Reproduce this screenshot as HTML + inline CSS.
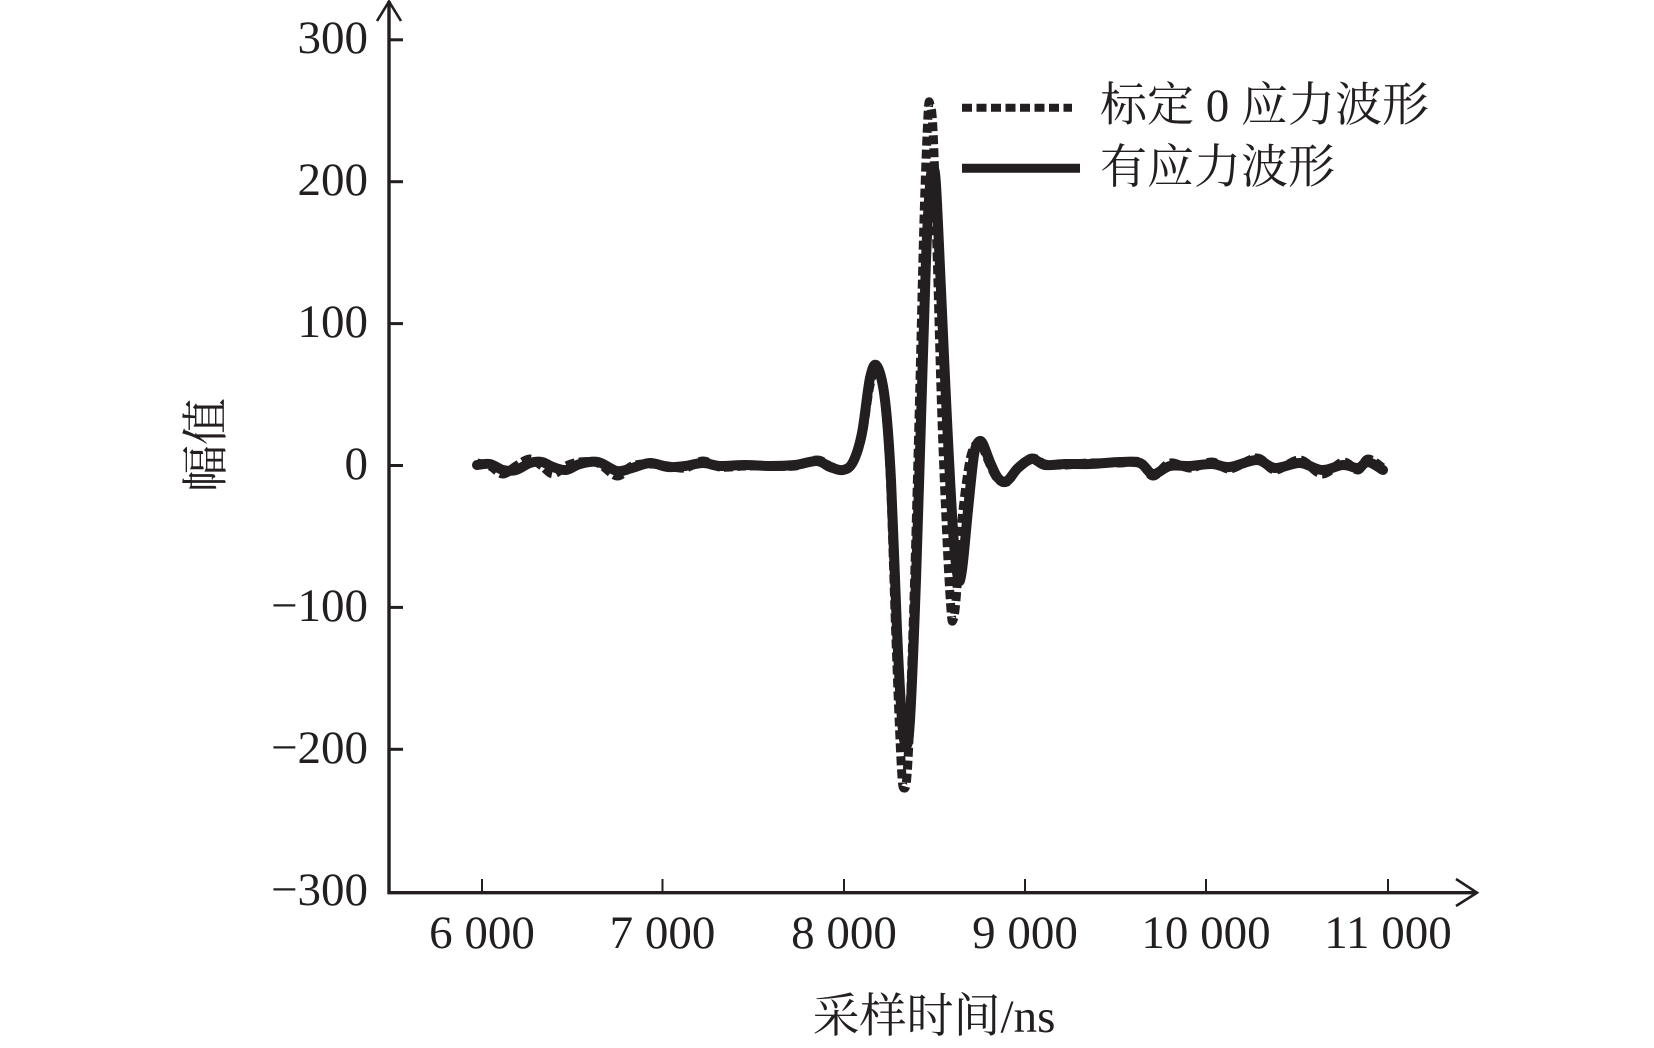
<!DOCTYPE html>
<html>
<head>
<meta charset="utf-8">
<style>
  html,body{margin:0;padding:0;background:#fff;}
  body{width:1654px;height:1048px;overflow:hidden;}
  svg{display:block;}
  .num{font-family:"Liberation Serif","Noto Serif CJK SC",serif;font-size:47px;fill:#231f20;}
  .cjk{font-family:"Liberation Serif","Noto Serif CJK SC",serif;font-size:47px;fill:#231f20;}
</style>
</head>
<body>
<svg id="chart" width="1654" height="1048" viewBox="0 0 1654 1048" xmlns="http://www.w3.org/2000/svg">
  <!-- axes -->
  <g stroke="#231f20" fill="none" stroke-linecap="butt">
    <line x1="389" y1="1" x2="389" y2="894" stroke-width="3.4"/>
    <line x1="387.5" y1="892.7" x2="1477" y2="892.7" stroke-width="3.4"/>
    <polyline points="377,21 389,1.5 401,21" stroke-width="2.6"/>
    <polyline points="1456,879 1477,892.7 1456,906" stroke-width="2.6"/>
    <!-- y ticks -->
    <line x1="389" y1="39.8" x2="403" y2="39.8" stroke-width="3"/>
    <line x1="389" y1="181.7" x2="403" y2="181.7" stroke-width="3"/>
    <line x1="389" y1="323.6" x2="403" y2="323.6" stroke-width="3"/>
    <line x1="389" y1="465.5" x2="403" y2="465.5" stroke-width="3"/>
    <line x1="389" y1="607.4" x2="403" y2="607.4" stroke-width="3"/>
    <line x1="389" y1="749.3" x2="403" y2="749.3" stroke-width="3"/>
    <!-- x ticks -->
    <line x1="482" y1="879" x2="482" y2="892" stroke-width="2"/>
    <line x1="662.5" y1="879" x2="662.5" y2="892" stroke-width="2"/>
    <line x1="844" y1="879" x2="844" y2="892" stroke-width="2"/>
    <line x1="1025" y1="879" x2="1025" y2="892" stroke-width="2"/>
    <line x1="1206" y1="879" x2="1206" y2="892" stroke-width="2"/>
    <line x1="1388" y1="879" x2="1388" y2="892" stroke-width="2"/>
  </g>

  <!-- y tick labels -->
  <g class="num" text-anchor="end">
    <text x="368" y="53">300</text>
    <text x="368" y="195">200</text>
    <text x="368" y="337">100</text>
    <text x="368" y="479">0</text>
    <text x="368" y="621">−100</text>
    <text x="368" y="763">−200</text>
    <text x="368" y="905">−300</text>
  </g>

  <!-- x tick labels -->
  <g class="num" text-anchor="middle">
    <text x="482" y="948">6 000</text>
    <text x="662.5" y="948">7 000</text>
    <text x="844" y="948">8 000</text>
    <text x="1025" y="948">9 000</text>
    <text x="1206" y="948">10 000</text>
    <text x="1388" y="948">11 000</text>
  </g>

  <!-- axis titles -->
  <text class="cjk" x="934" y="1032" text-anchor="middle">采样时间/ns</text>
  <text class="cjk" x="0" y="0" text-anchor="middle" transform="translate(222,445) rotate(-90)">幅值</text>

  <!-- series -->
  <path id="solid" d="" fill="none" stroke="#231f20" stroke-width="10" stroke-linejoin="round" stroke-linecap="round"/>
  <path id="dotted" d="" fill="none" stroke="#231f20" stroke-width="9" stroke-linejoin="round" stroke-dasharray="9 4"/>

  <!-- legend -->
  <line x1="962" y1="107.7" x2="1072" y2="107.7" stroke="#231f20" stroke-width="8" stroke-dasharray="10 4.5"/>
  <line x1="962" y1="168.3" x2="1080" y2="168.3" stroke="#231f20" stroke-width="9"/>
  <text class="cjk" x="1100" y="121">标定 0 应力波形</text>
  <text class="cjk" x="1100" y="183">有应力波形</text>
</svg>

<script>
function cr(pts){
  var d = "M" + pts[0][0] + "," + pts[0][1];
  for (var i = 0; i < pts.length - 1; i++){
    var p0 = pts[i-1] || pts[i], p1 = pts[i], p2 = pts[i+1], p3 = pts[i+2] || pts[i+1];
    var c1x = p1[0] + (p2[0]-p0[0])/6, c1y = p1[1] + (p2[1]-p0[1])/6;
    var c2x = p2[0] - (p3[0]-p1[0])/6, c2y = p2[1] - (p3[1]-p1[1])/6;
    d += " C" + c1x.toFixed(1) + "," + c1y.toFixed(1) + " " + c2x.toFixed(1) + "," + c2y.toFixed(1) + " " + p2[0] + "," + p2[1];
  }
  return d;
}
var D = [[477,463],[490,466],[503,474],[516,466],[530,459],[542,466],[553,474],[566,466],[580,462],[598,463],[617,476],[632,466],[650,464],[668,466],[685,468],[703,461],[720,467],[745,466],[770,466],[795,466],[817,460],[830,466],[843,470],[853,462],[862,435],[870,385],[877,368],[884,395],[890,470],[896,640],[901,760],[904,788],[908,760],[914,600],[919,420],[924,220],[928,115],[930,105],[933,130],[937,250],[942,420],[947,540],[951,610],[953,620],[956,600],[962,520],[970,460],[977,443],[981,443],[988,460],[997,478],[1007,482],[1018,468],[1032,458],[1045,464],[1065,465],[1090,463],[1120,463],[1140,462],[1153,476],[1170,463],[1190,468],[1212,462],[1230,469],[1257,458],[1275,470],[1300,460],[1322,474],[1343,462],[1358,470],[1368,459],[1383,468]];
var S = [[477,465],[490,464],[503,470],[516,470],[530,463],[542,462],[553,467],[566,470],[580,464],[598,462],[617,471],[632,468],[650,463],[668,467],[685,466],[703,463],[720,466],[745,465],[770,466],[795,465],[817,461],[830,467],[843,470],[853,462],[862,433],[870,378],[877,366],[885,400],[891,480],[897,630],[902,720],[906,745],[910,720],[916,580],[921,420],[926,260],[930,185],[933,170],[936,185],[941,290],[947,420],[953,530],[958,578],[962,570],[968,510],[974,455],[979,442],[983,444],[990,462],[998,478],[1007,481],[1018,468],[1032,459],[1045,465],[1065,464],[1090,464],[1120,462],[1140,463],[1153,474],[1170,466],[1190,466],[1212,464],[1230,467],[1257,460],[1275,468],[1300,463],[1322,470],[1343,465],[1358,468],[1368,462],[1383,470]];
document.getElementById("dotted").setAttribute("d", cr(D));
document.getElementById("solid").setAttribute("d", cr(S));
</script>
</body>
</html>
